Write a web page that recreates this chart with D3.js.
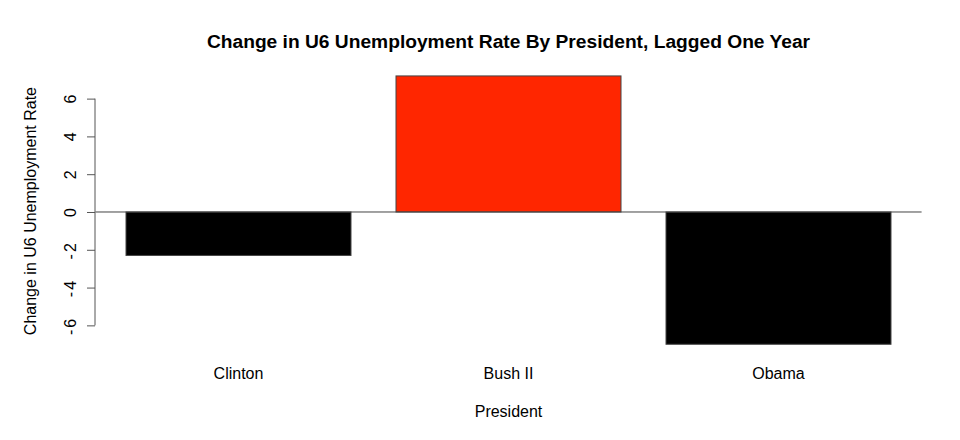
<!DOCTYPE html>
<html>
<head>
<meta charset="utf-8">
<script src="https://cdn.jsdelivr.net/npm/d3@7"></script>
<style>
body { margin: 0; background: #fff; }
text { font-family: "Liberation Sans", Arial, sans-serif; fill: #000; }
</style>
</head>
<body>
<svg id="main"></svg>
<script>
var presidents = ['Clinton', 'Bush II', 'Obama'];
var changes = [-2.3, 7.2, -7.0];
var colors = ['#000000', '#ff2600', '#000000'];
var yTicks = [-6, -4, -2, 0, 2, 4, 6];

var width = 960, height = 440;
var svg = d3.select('#main').attr('width', width).attr('height', height);

// plot region like R's barplot: bars width 1, space 0.2, 4% padding
var plot = {left: 95.4, right: 921.6, top: 65.2, bottom: 355};
var n = presidents.length;
var xl = 0.2, xr = 0.2 + n * 1.2 - 0.2;
var xpad = (xr - xl) * 0.04;
var x = d3.scaleLinear().domain([xl - xpad, xr + xpad]).range([plot.left, plot.right]);
var ymin = d3.min(changes), ymax = d3.max(changes);
var ypad = (ymax - ymin) * 0.04;
var y = d3.scaleLinear().domain([ymin - ypad, ymax + ypad]).range([plot.bottom, plot.top]);

// bars
svg.selectAll('rect.bar')
	.data(changes)
	.enter().append('rect')
	.attr('class', 'bar')
	.attr('x', (d, i) => x(0.2 + i * 1.2))
	.attr('width', x(1) - x(0))
	.attr('y', d => y(Math.max(0, d)))
	.attr('height', d => Math.abs(y(d) - y(0)))
	.attr('fill', (d, i) => colors[i])
	.attr('stroke', '#444')
	.attr('stroke-width', 1);

// zero line (abline)
svg.append('line')
	.attr('x1', plot.left).attr('x2', plot.right)
	.attr('y1', y(0)).attr('y2', y(0))
	.attr('stroke', '#444').attr('stroke-width', 1);

// y axis, R style: plain hyphen for minus
var axis = d3.axisLeft(y).tickValues(yTicks).tickSize(8).tickPadding(0)
	.tickFormat(d => String(d));
var gy = svg.append('g').attr('transform', `translate(${plot.left - 0.4},0)`).call(axis);
gy.attr('font-size', 16).attr('font-family', '"Liberation Sans", Arial, sans-serif');
gy.select('.domain').attr('d', `M0,${y(yTicks[0])}V${y(yTicks[yTicks.length - 1])}`).attr('stroke', '#555');
gy.selectAll('.tick line').attr('stroke', '#555');
gy.selectAll('.tick text')
	.attr('x', 0).attr('dy', null)
	.attr('transform', 'translate(-25,0) rotate(-90)')
	.attr('text-anchor', 'middle')
	.attr('dominant-baseline', 'central')
	.attr('letter-spacing', d => d < 0 ? '2px' : null)
	.attr('fill', '#000');

// category labels
svg.selectAll('text.cat')
	.data(presidents)
	.enter().append('text')
	.attr('class', 'cat')
	.attr('x', (d, i) => x(0.7 + i * 1.2))
	.attr('y', 378.5)
	.attr('text-anchor', 'middle')
	.style('font-size', '16px')
	.text(d => d);

// titles
svg.append('text')
	.attr('x', (plot.left + plot.right) / 2).attr('y', 47.5)
	.attr('text-anchor', 'middle')
	.style('font-size', '19.2px').style('font-weight', 'bold')
	.text('Change in U6 Unemployment Rate By President, Lagged One Year');

svg.append('text')
	.attr('x', (plot.left + plot.right) / 2).attr('y', 416.5)
	.attr('text-anchor', 'middle')
	.style('font-size', '16px')
	.text('President');

svg.append('text')
	.attr('transform', `translate(35.5,${(plot.top + plot.bottom) / 2 + 1}) rotate(-90)`)
	.attr('text-anchor', 'middle')
	.style('font-size', '16px')
	.text('Change in U6 Unemployment Rate');
</script>
</body>
</html>
